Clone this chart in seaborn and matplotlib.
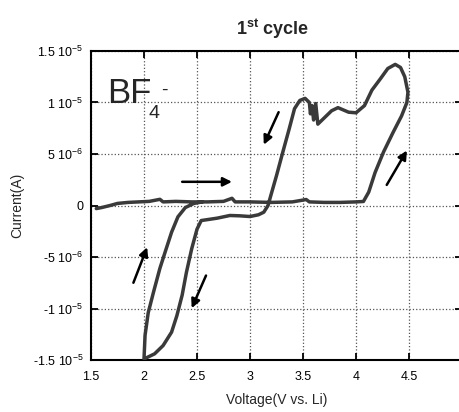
import matplotlib
matplotlib.use('Agg')
import matplotlib.pyplot as plt
import seaborn as sns
import pandas as pd

# values; current in units of 1e-6 A
voltage = [1.55, 1.60, 1.68, 1.75, 1.85, 1.95, 2.05, 2.15, 2.18, 2.30, 2.45, 2.60,
           2.75, 2.83, 2.86, 3.00, 3.20, 3.40, 3.53, 3.56, 3.70, 3.85, 4.00, 4.07,
           4.12, 4.18, 4.26, 4.35, 4.43, 4.48, 4.49, 4.46, 4.42, 4.37, 4.30, 4.23,
           4.15, 4.08, 4.00, 3.93, 3.83, 3.77, 3.71, 3.64, 3.62, 3.60, 3.585, 3.57,
           3.56, 3.52, 3.47, 3.42, 3.37, 3.31, 3.25, 3.20, 3.17, 3.13, 3.08, 3.00,
           2.90, 2.81, 2.69, 2.54, 2.50, 2.45, 2.40, 2.36, 2.31, 2.26, 2.18, 2.10,
           2.04, 2.00, 2.01, 2.04, 2.09, 2.15, 2.20, 2.26, 2.32, 2.39, 2.47, 2.55]
current_uA = [-0.3, -0.2, 0.0, 0.2, 0.3, 0.35, 0.4, 0.6, 0.35, 0.4, 0.35, 0.35,
              0.4, 0.7, 0.35, 0.35, 0.3, 0.35, 0.58, 0.35, 0.3, 0.3, 0.35, 0.39,
              1.3, 3.2, 5.2, 7.1, 8.7, 10.0, 11.0, 12.5, 13.4, 13.7, 13.3, 12.3,
              11.2, 9.7, 9.0, 9.06, 9.5, 9.2, 8.6, 7.9, 9.9, 8.3, 9.7, 8.9,
              10.0, 10.4, 10.2, 9.4, 7.45, 5.2, 2.9, 1.1, 0.0, -0.65, -0.9, -1.07,
              -1.0, -0.97, -1.23, -1.46, -2.3, -4.2, -6.5, -8.7, -10.7, -12.3, -13.6, -14.4,
              -14.7, -14.9, -12.6, -10.4, -8.4, -6.1, -4.5, -2.6, -1.1, -0.2, 0.2, 0.35]

# sweep direction arrows (tail -> tip), current in 1e-6 A
arrow_tail_v = [2.36, 3.27, 4.29, 1.90, 2.585]
arrow_tail_i = [2.3, 9.06, 2.0, -7.5, -6.8]
arrow_tip_v = [2.83, 3.13, 4.48, 2.03, 2.45]
arrow_tip_i = [2.3, 5.9, 5.34, -4.05, -9.97]

x_ticks = [1.5, 2, 2.5, 3, 3.5, 4, 4.5, 5]
x_ticklabels = ['1.5', '2', '2.5', '3', '3.5', '4', '4.5', '5']
y_ticks = [-1.5e-5, -1e-5, -5e-6, 0, 5e-6, 1e-5, 1.5e-5]
y_ticklabels = [r'-1.5 10$^{-5}$', r'-1 10$^{-5}$', r'-5 10$^{-6}$', '0',
                r'5 10$^{-6}$', r'1 10$^{-5}$', r'1.5 10$^{-5}$']

sns.set_style('white')
plt.rcParams['font.family'] = ['Liberation Sans', 'DejaVu Sans']
plt.rcParams['mathtext.fontset'] = 'custom'
plt.rcParams['mathtext.rm'] = 'Liberation Sans'
plt.rcParams['mathtext.it'] = 'Liberation Sans:italic'
plt.rcParams['mathtext.bf'] = 'Liberation Sans:bold'

df = pd.DataFrame({'V': voltage, 'I': [c * 1e-6 for c in current_uA]})

fig = plt.figure(figsize=(4.6, 4.12), dpi=100)
ax = fig.add_axes([91 / 460, 52 / 412, 371 / 460, 309 / 412])

sns.lineplot(data=df, x='V', y='I', sort=False, estimator=None,
             color='#3a3a3a', lw=2.5, ax=ax, zorder=3)

for tv, ti, hv, hi in zip(arrow_tail_v, arrow_tail_i, arrow_tip_v, arrow_tip_i):
    ax.annotate('', xy=(hv, hi * 1e-6), xytext=(tv, ti * 1e-6),
                arrowprops=dict(arrowstyle='-|>', color='black', lw=1.8,
                                mutation_scale=13, shrinkA=0, shrinkB=0), zorder=4)

ax.set_xlim(1.5, 5)
ax.set_ylim(-1.5e-5, 1.5e-5)
ax.set_xticks(x_ticks)
ax.set_xticklabels(x_ticklabels)
ax.set_yticks(y_ticks)
ax.set_yticklabels(y_ticklabels)
ax.tick_params(direction='in', bottom=True, left=True, top=True, right=True,
               length=5, width=1.3, labelsize=9, colors='black')
ax.tick_params(axis='x', pad=8)
ax.tick_params(axis='y', pad=5.5)
ax.grid(True, ls=':', color='#555555', lw=0.9)
ax.set_axisbelow(True)
for s in ax.spines.values():
    s.set_color('black')
    s.set_linewidth(1.5)

ax.set_xlabel('Voltage(V vs. Li)', fontsize=10, labelpad=7)
ax.set_ylabel('Current(A)', fontsize=10)
ax.yaxis.set_label_coords(-0.18, 0.5)

ax.text(0.043, 0.832, 'BF', transform=ax.transAxes, fontsize=25, va='baseline')
ax.text(0.155, 0.783, '4', transform=ax.transAxes, fontsize=14, va='baseline')
ax.text(0.188, 0.857, '-', transform=ax.transAxes, fontsize=14, va='baseline')

fig.text(273 / 460, (412 - 35) / 412, r'1$^{\mathbf{st}}$ cycle', ha='center',
         va='baseline', fontsize=13, fontweight='bold')

fig.savefig('out.png', dpi=100)
